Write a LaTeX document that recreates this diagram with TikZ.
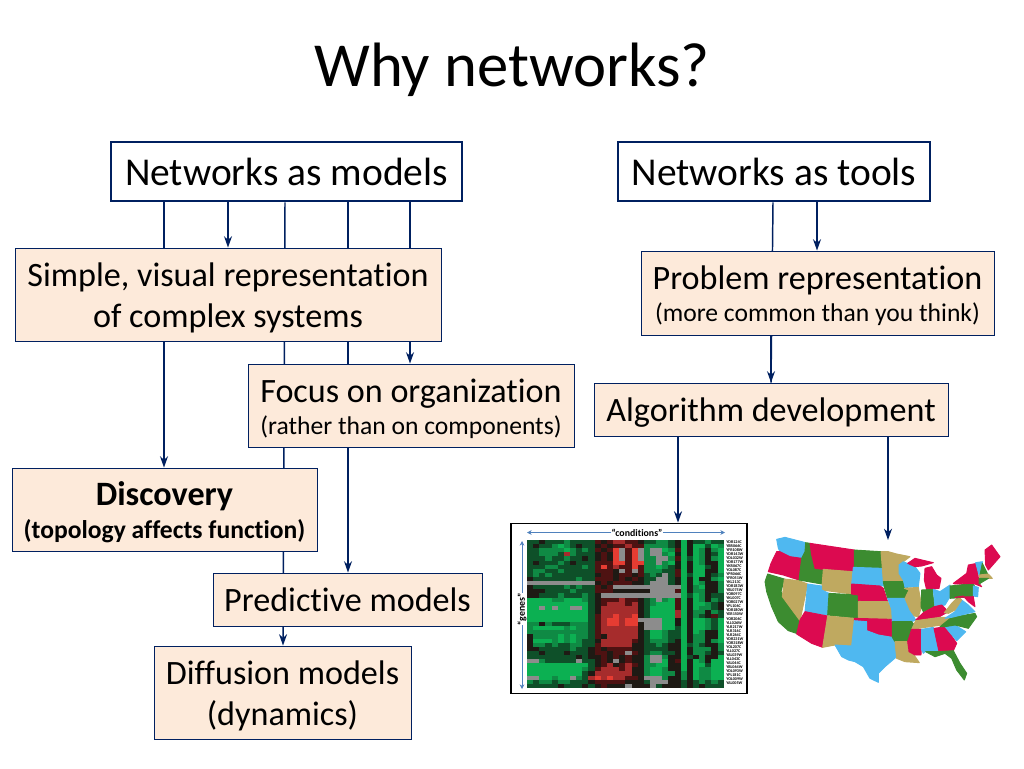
\documentclass[tikz,border=0pt]{standalone}
\usepackage{fontspec}
\setmainfont[Ligatures=NoCommon]{Carlito}
\usetikzlibrary{arrows.meta,backgrounds}

\definecolor{navy}{HTML}{002060}
\definecolor{peach}{HTML}{FDEADA}
\definecolor{heatK}{HTML}{1E1A14}
\definecolor{heatD}{HTML}{0E5029}
\definecolor{heatM}{HTML}{0F8A44}
\definecolor{heatB}{HTML}{0CB052}
\definecolor{heatd}{HTML}{4E1212}
\definecolor{heatr}{HTML}{A62C2C}
\definecolor{heatR}{HTML}{E63C32}
\definecolor{heatg}{HTML}{8C8C8C}
\definecolor{armblue}{HTML}{4F81BD}
\definecolor{stblue}{HTML}{4FB8F0}
\definecolor{stred}{HTML}{DC0A50}
\definecolor{stgreen}{HTML}{3C8C30}
\definecolor{sttan}{HTML}{BFA960}

\newcommand\subtextfont{\fontsize{19.2}{22}\selectfont}
\newcommand\topgap{\rule{0pt}{24pt}}

\tikzset{
  modelbox/.style={draw=navy,line width=2.1pt,fill=white,font=\fontsize{29.6}{34}\selectfont},
  peachbox/.style={draw=navy,line width=0.7pt,fill=peach,align=center,inner sep=0pt,
    font=\fontsize{25.6}{31}\selectfont,
    execute at begin node={\rule{0pt}{23.5pt}},execute at end node={\rule[-5pt]{0pt}{0pt}}},
  link/.style={draw=navy,line width=1.1pt},
  linkto/.style={link,-{Stealth[length=8.5pt,width=6pt]}},
  armarrow/.style={draw=armblue,line width=0.7pt,-{Stealth[length=3.5pt,width=3.5pt]}},
}

% one row of the expression matrix, one letter per cell
\newcount\heatcol
\newcommand\heatrow[1]{\heatcol=0 \heatnext#1\relax}
\def\heatnext#1{\ifx#1\relax\else
  \fill[heat#1] (\the\heatcol,\heaty) rectangle ++(1.03,1.03);
  \advance\heatcol by 1
  \expandafter\heatnext\fi}

\begin{document}
\begin{tikzpicture}[x=0.75pt,y=-0.75pt]
\useasboundingbox (0,0) rectangle (1024,768);

\node (title) at (512,70) {\fontsize{47}{52}\selectfont Why networks?};

% Boxes
\node[modelbox,minimum width=263.25pt,minimum height=44.25pt] (models) at (286.5,171.5) {Networks as models};
\node[modelbox,minimum width=234pt,minimum height=44.25pt] (tools) at (774,171.5) {Networks as tools};
\node[peachbox,minimum width=319.5pt,minimum height=69.75pt] (simple) at (228,294.5) {\topgap Simple, visual representation\\of complex systems};
\node[peachbox,minimum width=264.75pt,minimum height=63pt] (problem) at (817.5,293) {\topgap Problem representation\\[-6.75pt]{\subtextfont (more common than you think)}};
\node[peachbox,minimum width=244.5pt,minimum height=62.25pt] (focus) at (411,405.5) {\topgap Focus on organization\\[-6.75pt]{\subtextfont (rather than on components)}};
\node[peachbox,minimum width=265.5pt,minimum height=39.75pt] (algo) at (771,409.5) {Algorithm development};
\node[peachbox,minimum width=228.75pt,minimum height=62.25pt] (discovery) at (164.5,509.5) {\topgap\textbf{Discovery}\\[-6pt]{\subtextfont\bfseries (topology affects function)}};
\node[peachbox,minimum width=201.75pt,minimum height=39.75pt] (predictive) at (347.5,599.5) {Predictive models};
\node[peachbox,minimum width=192.75pt,minimum height=69.75pt] (diffusion) at (282.5,692.5) {\topgap Diffusion models\\(dynamics)};

% Heat map
\node[draw=black,line width=1.3pt,fill=white,minimum width=177pt,minimum height=127.5pt,inner sep=0pt] (heatmap) at (629,608.5) {};

\begin{scope}[shift={(527,540)},x=4.61pt,y=-3.08pt]
\foreach \heaty/\cells in {
0/DDKDDDMDDDD dKdrrddK DDMMD KBK DDMDD,
1/DKDDMBMDKDD KdKddrdd MMMMD KBK BBDBM,
2/DDMMMMBMDMD dKdRgdRg MggBM dBK BMKMB,
3/DDMMMDrMDDD KdKRgdRg MggMB KBK BMKDB,
4/DDDMDDMDDKD KdKRgdRg MMggM dBD BMKMB,
5/DKDDDMDKDDD dddRRdRR MMgMB KBK BMKKB,
6/DDDMMDDDDMD dRdrddRd MMBMD KBK BBDKB,
7/DMMDDMDDDDD dddKgdgd MMMDD dBK BBKKB,
8/DMDMDDDDDDD KddKddKd DMDgD dBD BBKDM,
9/KDDDDDDDMDD dddKdKdK DDggD KBK BKKMB,
10/ggggggggggg KdKdddKK DgggD KBK BMKKM,
11/KDDDDDMDMDD dKdggggg ggggg gBK MBKKM,
12/KKKDDDDMDDD dddKKKKK Kgggg dBK MMKKM,
13/KKDDDMDDDMD Kggggggg ggggg gBD BMKDD,
14/BBBBMMBBBMD KdddrddK DMgMB dBK BMKMD,
15/BBBBBBBBBBD KdrrrdrK DMBBB dBK BBMDK,
16/BBgBgBBggBD KrrrrrrK DBBBB dBK BMMDK,
17/BBBBBBBBBBD KrrrrrrK DBBBB rBK MMKMD,
18/BBBBBBBBBBD drrRrrRK DBBBB rBK MDKdD,
19/BBBBBBBBBBD drRRrRRg gggBB KBK BBMDB,
20/MMKMDDDMMMD drRRrRRK gggBB KBK BBMDB,
21/MBBBBBMBMMD drrrrrrK gggBB DBK BBMDB,
22/MMMMMMMMMMD drrrrrrK DBBMD DBK BMKKB,
23/KMMMMBMBMMD dKrrrrrK DBBMD DBK MMKKB,
24/KBBBMBMBMDD KrrrrrdK DMMMD KBK MMKMB,
25/KMMDMDDMMDD drrrrrKK DDMDK KBD MDKKM,
26/KKDDDDDMDDK dKddddKK DDDDK KBK MMMKM,
27/DDKDDDKDDDK ddKddgdK DMMDD KBK MMDKD,
28/DDDDDDDDKDK KdKdKdKK MggMK KBD KMKKB,
29/ggMDDDDDgDD KdKgKdKK MggBK dBK BMKBB,
30/BBBBBBBBBBD KdrKdrdK MMBBK KBK BBDBB,
31/BBBBBBBBBMD drrrdrKK MBBMK KBK BMMBB,
32/BBBBBBBBBDK rrrrrrKK MBBMM KMK BMMBB,
33/ggBBMBBgMDr RrRrrddK gggMK KMK BMMBB,
34/MDMMDMMDDDK dddddKKK DgggK KDK DMDMD,
35/DDDDDKDDDKD KdKKKgKK KgDKK KDK DKDDD}
  {\expandafter\heatrow\expandafter{\cells}}
\end{scope}

\foreach \gene [count=\i] in {YDR124C,YBR066C,YFR108W,YDR143W,YDL032W,YDR177W,YKR067C,YOL087C,YPR066C,YFR051W,YKL213C,YDR183W,YBL075W,YOR097C,YKL007C,YOR027W,YPL106C,YDR180W,YER150W,YOR206C,YLL026W,YLR217W,YLR316C,YLR264C,YDR231W,YOR318W,YOL207C,YLL027C,YAL039W,YLL043C,YAL044C,YBL064W,YDL093W,YPL181C,YOL009W,YAL005W}
  \node[anchor=west,inner sep=0pt,font=\fontsize{3.1}{3.5}\selectfont\bfseries] (gene\i) at (726,{538+4.03*\i}) {\gene};

\node[inner sep=0pt,font=\fontsize{7.4}{9}\selectfont\bfseries] (conditions) at (637,532.5) {“conditions”};
\node[inner sep=0pt,rotate=90,font=\fontsize{7.4}{9}\selectfont\bfseries] (genes) at (522,609) {“genes”};
\draw[armarrow] (conditions.west) -- (527,532.5);
\draw[armarrow] (conditions.east) -- (725,532.5);
\draw[armarrow] (genes.east) -- (522,541);
\draw[armarrow] (genes.west) -- (522,689);

% US map, in its own coordinates
\begin{scope}[shift={(755,510)},x=0.25pt,y=-0.25pt]
\foreach \col/\statepath in {
stblue/{(65,88) -- (90,82) -- (152,98) -- (150,125) -- (140,145) -- (105,140) -- (75,125) -- (70,115)},
stred/{(65,125) -- (75,125) -- (105,140) -- (140,145) -- (132,210) -- (85,195) -- (40,185) -- (48,160)},
stgreen/{(38,192) -- (88,207) -- (78,245) -- (135,330) -- (130,372) -- (100,362) -- (70,335) -- (50,290) -- (35,245) -- (30,215)},
sttan/{(88,207) -- (132,212) -- (158,222) -- (135,332) -- (82,260)},
stgreen/{(152,98) -- (165,100) -- (170,135) -- (180,175) -- (205,180) -- (200,222) -- (132,210) -- (140,145) -- (150,125)},
stred/{(165,100) -- (298,120) -- (298,185) -- (205,178) -- (180,175) -- (170,135)},
sttan/{(205,178) -- (292,185) -- (290,252) -- (200,240)},
stblue/{(158,222) -- (200,228) -- (200,240) -- (222,250) -- (218,315) -- (150,305)},
stgreen/{(222,250) -- (310,255) -- (310,325) -- (218,315)},
stred/{(150,305) -- (218,318) -- (203,412) -- (170,400) -- (125,372) -- (135,330)},
sttan/{(218,318) -- (298,325) -- (290,408) -- (240,405) -- (203,412)},
stgreen/{(298,120) -- (378,125) -- (382,175) -- (298,172)},
stblue/{(295,172) -- (382,175) -- (388,228) -- (375,228) -- (290,222)},
stred/{(290,222) -- (375,228) -- (385,235) -- (398,275) -- (310,272) -- (310,255) -- (290,252)},
sttan/{(310,275) -- (398,275) -- (410,298) -- (410,328) -- (310,325)},
stred/{(298,325) -- (410,328) -- (412,382) -- (370,375) -- (335,362) -- (335,335) -- (298,332)},
stblue/{(298,332) -- (335,335) -- (335,362) -- (370,375) -- (412,382) -- (420,390) -- (425,440) -- (390,470) -- (370,490) -- (370,517) -- (345,505) -- (325,470) -- (300,455) -- (280,450) -- (260,440) -- (240,405) -- (290,408)},
sttan/{(378,125) -- (400,125) -- (425,132) -- (465,140) -- (432,165) -- (432,190) -- (448,215) -- (385,215) -- (382,175)},
stgreen/{(385,215) -- (448,215) -- (462,240) -- (450,265) -- (398,265) -- (388,232)},
stblue/{(398,265) -- (450,265) -- (465,300) -- (482,330) -- (470,335) -- (412,335) -- (410,298)},
stgreen/{(412,335) -- (470,335) -- (478,345) -- (458,395) -- (420,395) -- (412,382)},
sttan/{(420,395) -- (458,395) -- (458,420) -- (475,432) -- (493,458) -- (450,455) -- (425,445)},
stblue/{(432,165) -- (445,155) -- (480,170) -- (495,190) -- (490,230) -- (450,232) -- (445,210) -- (432,190)},
sttan/{(448,235) -- (490,232) -- (500,290) -- (490,320) -- (478,318) -- (465,300) -- (450,265) -- (462,240)},
stred/{(458,160) -- (480,145) -- (535,158) -- (500,168) -- (480,170)},
stred/{(510,175) -- (530,170) -- (545,195) -- (558,205) -- (552,235) -- (515,240) -- (508,210)},
stgreen/{(500,240) -- (532,238) -- (538,290) -- (505,305) -- (498,290)},
stblue/{(535,238) -- (555,245) -- (585,225) -- (585,260) -- (570,285) -- (540,290)},
stred/{(482,330) -- (505,308) -- (538,290) -- (560,285) -- (580,305) -- (550,322) -- (490,330)},
sttan/{(482,332) -- (555,322) -- (590,322) -- (560,345) -- (470,358)},
stred/{(470,358) -- (500,358) -- (498,435) -- (480,435) -- (462,425) -- (458,395)},
stblue/{(500,358) -- (535,352) -- (552,422) -- (510,425) -- (505,430) -- (500,420)},
stred/{(537,355) -- (572,350) -- (605,400) -- (595,422) -- (552,425)},
stgreen/{(512,425) -- (552,425) -- (595,422) -- (615,460) -- (635,490) -- (628,510) -- (605,480) -- (590,445) -- (570,430) -- (540,440)},
stblue/{(570,350) -- (600,345) -- (632,365) -- (605,392)},
stgreen/{(555,350) -- (590,322) -- (660,310) -- (665,320) -- (640,355) -- (600,345) -- (570,350)},
stblue/{(570,325) -- (600,305) -- (620,270) -- (640,285) -- (660,305) -- (590,322)},
sttan/{(568,308) -- (590,280) -- (610,260) -- (620,270) -- (600,300) -- (580,310)},
stgreen/{(585,228) -- (655,220) -- (665,245) -- (655,260) -- (585,265)},
stred/{(595,220) -- (635,190) -- (640,165) -- (665,160) -- (672,220) -- (680,230) -- (655,220) -- (600,222)},
stblue/{(655,228) -- (670,232) -- (668,260) -- (655,258)},
stred/{(600,262) -- (655,260) -- (660,290) -- (640,275) -- (625,258)},
stblue/{(662,158) -- (682,155) -- (680,190) -- (672,195)},
stgreen/{(682,160) -- (697,190) -- (675,195)},
stred/{(690,120) -- (710,105) -- (735,140) -- (700,180) -- (692,165)},
sttan/{(672,195) -- (700,192) -- (712,205) -- (675,205)},
stgreen/{(672,205) -- (700,205) -- (672,222)}}
  {\filldraw[\col,line width=0.7pt,line join=round] \statepath -- cycle;}
\end{scope}
\coordinate (mapnorth) at (888,540);

% Connectors, the long ones run behind the boxes
\begin{scope}[on background layer]
\draw[linkto] (164,0 |- models.south) -- (164,0 |- discovery.north);
\draw[linkto] (285,0 |- models.south) -- (283,0 |- diffusion.north);
\draw[linkto] (348,0 |- models.south) -- (348,0 |- predictive.north);
\draw[linkto] (410,0 |- models.south) -- (410,0 |- focus.north);
\draw[link] (773,0 |- tools.south) -- (771,0 |- algo.north);
\end{scope}
\draw[linkto] (228,0 |- models.south) -- (228,0 |- simple.north);
\draw[linkto] (771,0 |- problem.south) -- (771,0 |- algo.north);
\draw[linkto] (817,0 |- tools.south) -- (817,0 |- problem.north);
\draw[linkto] (678,0 |- algo.south) -- (678,0 |- heatmap.north);
\draw[linkto] (888,0 |- algo.south) -- (mapnorth);

\end{tikzpicture}
\end{document}
